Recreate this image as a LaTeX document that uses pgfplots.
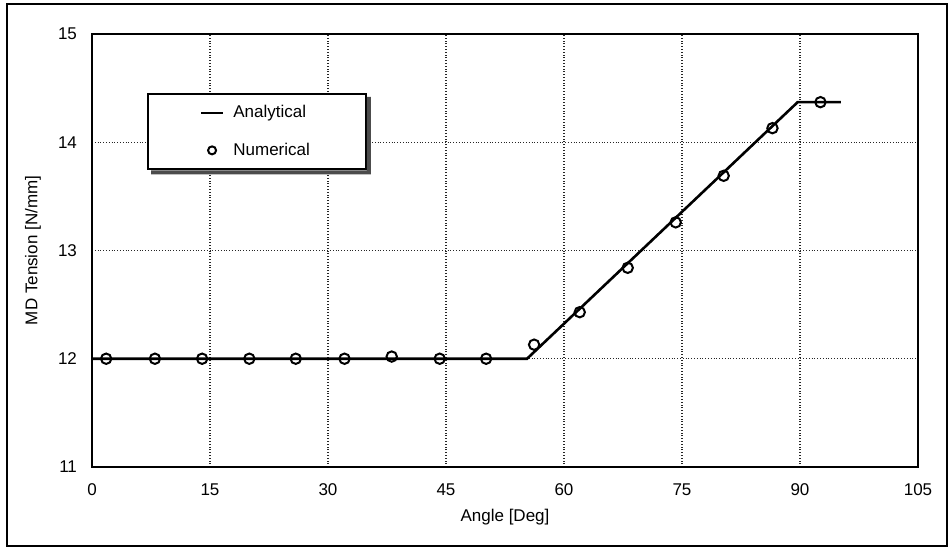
\documentclass[border=0pt]{standalone}
\usepackage{pgfplots}
\pgfplotsset{compat=1.18}
\usepackage{fontspec}
\setmainfont{Liberation Sans}
\begin{document}
\begin{tikzpicture}
\begin{axis}[
  scale only axis,
  width=413pt, height=216.5pt,
  xmin=0, xmax=105, ymin=11, ymax=15,
  xtick={0,15,30,45,60,75,90,105},
  ytick={11,12,13,14,15},
  grid=major,
  major grid style={black!85, densely dotted, line width=0.55pt},
  axis line style={line width=1.3pt},
  major tick length=0pt,
  /pgf/number format/assume math mode=true,
  tick label style={font=\fontsize{8.5}{10}\selectfont},
  xticklabel style={yshift=-5pt},
  yticklabel style={xshift=-4pt},
  xlabel={Angle [Deg]},
  ylabel={MD Tension [N/mm]},
  label style={font=\fontsize{8.5}{10}\selectfont},
  xlabel style={at={(axis description cs:0.5,-0.1155)}, anchor=center},
  ylabel style={at={(axis description cs:-0.0714,0.5)}, anchor=center},
  legend style={name=leg, at={(axis cs:7,14.455)}, anchor=north west, draw=black,
    line width=1pt, fill=white, inner xsep=26pt, inner ysep=3.7pt,
    row sep=7pt, font=\fontsize{8.5}{10}\selectfont},
  legend cell align=left,
]
\addplot[black, line width=1.3pt,
  legend image code/.code={\draw[black, line width=1pt] (0pt,0pt) -- (11pt,0pt); \path (13.5pt,0pt);}]
  coordinates {(0,12) (55.3,12) (89.7,14.37) (95.2,14.37)};
\addlegendentry{Analytical}
\addplot[only marks, mark=o, mark size=2.6pt, black, mark options={line width=1pt},
  legend image code/.code={\draw[black, line width=1pt] (5.5pt,0pt) circle (2pt); \path (0pt,0pt) (13.5pt,0pt);}]
  coordinates {
  (1.8,12.0) (8.0,12.0) (14.0,12.0) (20.0,12.0) (25.9,12.0) (32.1,12.0)
  (38.1,12.02) (44.2,12.0) (50.1,12.0) (56.2,12.13) (62.0,12.43) (68.1,12.84)
  (74.2,13.26) (80.3,13.69) (86.5,14.13) (92.6,14.37)};
\addlegendentry{Numerical}
\end{axis}
\fill[black!70] ([yshift=-2pt]leg.north east) -- ([shift={(2pt,-2pt)}]leg.north east)
  -- ([shift={(2pt,-2pt)}]leg.south east) -- ([shift={(2pt,-2pt)}]leg.south west)
  -- ([xshift=2pt]leg.south west) -- (leg.south east) -- cycle;
\draw[line width=1.2pt] ([shift={(-42.5pt,-39.5pt)}]current axis.south west) rectangle ([shift={(14.5pt,15pt)}]current axis.north east);
\path ([shift={(-46pt,-40.5pt)}]current axis.south west) rectangle ([shift={(16pt,17pt)}]current axis.north east);
\end{tikzpicture}
\end{document}
